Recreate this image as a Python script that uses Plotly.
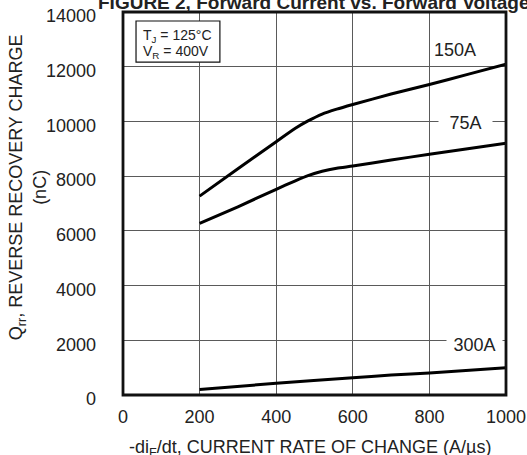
import plotly.graph_objects as go

# Data
x_150 = [200, 300, 400, 450, 483, 520, 558, 600, 700, 800, 900, 1000]
q_150 = [7270, 8270, 9260, 9750, 10020, 10270, 10450, 10620, 11000, 11350, 11720, 12090]
x_75 = [200, 300, 400, 450, 483, 520, 558, 600, 700, 800, 900, 1000]
q_75 = [6270, 6880, 7520, 7830, 8020, 8180, 8290, 8370, 8590, 8800, 9000, 9200]
x_300 = [200, 400, 600, 700, 800, 1000]
q_300 = [200, 430, 630, 730, 800, 1000]

x_ticks = [0, 200, 400, 600, 800, 1000]
y_ticks = [0, 2000, 4000, 6000, 8000, 10000, 12000, 14000]

FONT = "Liberation Sans, Arial, sans-serif"
TXT = "#222222"

fig = go.Figure()
for xs, ys in [(x_150, q_150), (x_75, q_75), (x_300, q_300)]:
    fig.add_trace(go.Scatter(x=xs, y=ys, mode="lines",
                             line=dict(color="black", width=3, shape="spline", smoothing=0.6),
                             showlegend=False, hoverinfo="skip"))

fig.update_layout(
    width=527, height=455,
    margin=dict(l=123, r=21, t=12, b=60, autoexpand=False),
    paper_bgcolor="white", plot_bgcolor="white",
    font=dict(family=FONT, size=18, color=TXT),
    showlegend=False,
)
fig.update_xaxes(range=[0, 1000], tickvals=x_ticks, ticktext=[str(v) for v in x_ticks],
                 showgrid=True, gridcolor="#5a5a5a", gridwidth=1, zeroline=False,
                 showline=False, ticks="", ticklabelstandoff=9, automargin=False,
                 ticklabeloverflow="allow",
                 tickfont=dict(size=18, family=FONT, color=TXT))
fig.update_yaxes(range=[0, 14000], tickvals=y_ticks, ticktext=[str(v) for v in y_ticks],
                 showgrid=True, gridcolor="#5a5a5a", gridwidth=1, zeroline=False,
                 showline=False, ticks="", ticklabelstandoff=26, ticklabelshift=4,
                 automargin=False, ticklabeloverflow="allow",
                 tickfont=dict(size=18, family=FONT, color=TXT))

# frame
fig.add_shape(type="rect", xref="paper", yref="paper", x0=0, x1=1, y0=0, y1=1,
              line=dict(color="#111111", width=2.8), layer="above")

# conditions box
fig.add_shape(type="rect", xref="paper", yref="paper", x0=0.034, x1=0.253, y0=0.869, y1=0.9765,
              line=dict(color="#111111", width=1.2), fillcolor="white", layer="above")
fig.add_annotation(text="T<sub>J</sub> = 125°C", xref="paper", yref="paper",
                   x=0.047, y=0.937, xanchor="left", yanchor="middle", showarrow=False,
                   font=dict(size=14, family=FONT, color=TXT))
fig.add_annotation(text="V<sub>R</sub> = 400V", xref="paper", yref="paper",
                   x=0.047, y=0.895, xanchor="left", yanchor="middle", showarrow=False,
                   font=dict(size=14, family=FONT, color=TXT))

# title (cut off at the top)
fig.add_annotation(text="<b>FIGURE 2, Forward Current vs. Forward Voltage</b>",
                   xref="paper", yref="paper", x=-0.068, y=0.995, xanchor="left", yanchor="bottom",
                   showarrow=False, font=dict(size=19, family=FONT, color=TXT),
                   borderpad=0)

# axis titles
fig.add_annotation(text="Q<sub>rr</sub>, REVERSE RECOVERY CHARGE<br>(nC)",
                   xref="paper", yref="paper", x=-0.250, y=0.543, xanchor="center", yanchor="middle",
                   textangle=-90, showarrow=False, font=dict(size=18, family=FONT, color=TXT))
fig.add_annotation(text="-di<sub>F</sub>/dt, CURRENT RATE OF CHANGE (A/µs)",
                   xref="paper", yref="paper", x=0.488, y=-0.14, xanchor="center", yanchor="middle",
                   showarrow=False, font=dict(size=18, family=FONT, color=TXT))

# curve labels
fig.add_annotation(text="150A", x=867, y=12614, showarrow=False,
                   font=dict(size=18, family=FONT, color=TXT))
fig.add_annotation(text="75A", x=893, y=9960, showarrow=False, bgcolor="white", width=51,
                   borderpad=1, font=dict(size=18, family=FONT, color=TXT))
fig.add_annotation(text="300A", x=919, y=1810, showarrow=False, bgcolor="white", width=53,
                   borderpad=1, font=dict(size=18, family=FONT, color=TXT))

fig.write_html("out.html", config={"displayModeBar": False},
               post_script="document.body.style.margin='0';")
